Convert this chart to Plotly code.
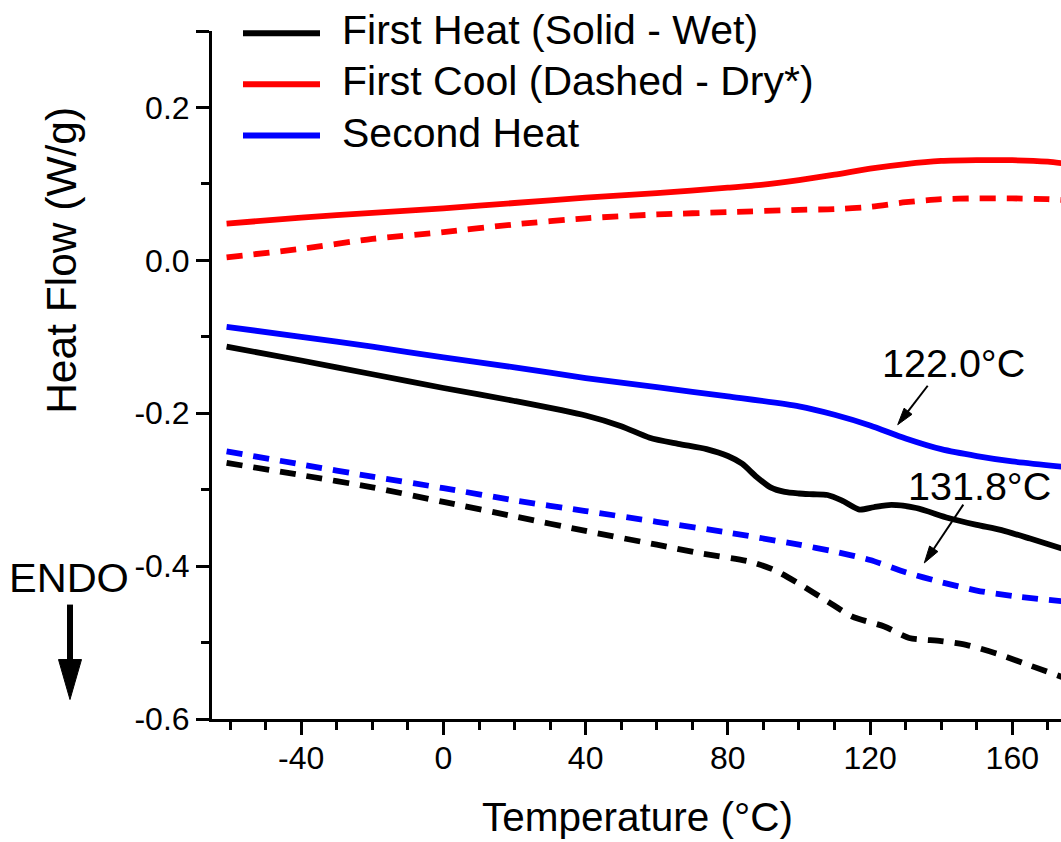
import math
import plotly.graph_objects as go

# ---------------- data ----------------
heat1_wet_x = [-61, -40, -20, 0, 20, 40, 50, 58, 66, 74, 80, 84, 88, 92, 96, 100, 104, 108, 112, 117, 121, 126, 133, 142, 150, 157, 165, 174]
heat1_wet_y = [-0.113, -0.131, -0.149, -0.167, -0.184, -0.203, -0.217, -0.232, -0.240, -0.247, -0.256, -0.266, -0.283, -0.297, -0.303, -0.305, -0.306, -0.307, -0.314, -0.326, -0.323, -0.320, -0.324, -0.337, -0.346, -0.353, -0.364, -0.377]

heat1_dry_x = [-61, -40, -20, 0, 20, 40, 60, 72, 86, 93, 100, 108, 115, 124, 131, 140, 147, 156, 165, 174]
heat1_dry_y = [-0.265, -0.281, -0.297, -0.316, -0.335, -0.354, -0.372, -0.383, -0.394, -0.405, -0.423, -0.446, -0.466, -0.479, -0.494, -0.498, -0.503, -0.515, -0.530, -0.545]

cool1_wet_x = [-61, -40, -20, 0, 20, 40, 60, 80, 90, 100, 110, 120, 130, 140, 150, 160, 170, 174]
cool1_wet_y = [0.048, 0.056, 0.062, 0.068, 0.075, 0.082, 0.088, 0.095, 0.099, 0.105, 0.112, 0.120, 0.126, 0.130, 0.131, 0.131, 0.129, 0.127]

cool1_dry_x = [-61, -40, -20, 0, 20, 40, 60, 80, 100, 110, 120, 130, 140, 150, 160, 170, 174]
cool1_dry_y = [0.004, 0.015, 0.028, 0.037, 0.047, 0.055, 0.060, 0.063, 0.066, 0.067, 0.070, 0.076, 0.080, 0.081, 0.081, 0.080, 0.079]

heat2_wet_x = [-61, -40, -20, 0, 20, 40, 60, 80, 100, 110, 120, 130, 140, 150, 160, 174]
heat2_wet_y = [-0.087, -0.100, -0.113, -0.127, -0.140, -0.154, -0.166, -0.178, -0.191, -0.202, -0.216, -0.233, -0.247, -0.256, -0.263, -0.270]

heat2_dry_x = [-61, -40, -20, 0, 20, 40, 60, 80, 100, 110, 120, 130, 140, 150, 160, 174]
heat2_dry_y = [-0.250, -0.267, -0.283, -0.298, -0.314, -0.328, -0.342, -0.356, -0.372, -0.381, -0.392, -0.408, -0.421, -0.432, -0.439, -0.446]

legend_labels = ["First Heat (Solid - Wet)", "First Cool (Dashed - Dry*)", "Second Heat"]
legend_colors = ["#000000", "#ff0000", "#0000ff"]

x_tick_vals = [-40, 0, 40, 80, 120, 160]
x_tick_text = ["-40", "0", "40", "80", "120", "160"]
y_tick_vals = [-0.6, -0.4, -0.2, 0.0, 0.2, 0.3]
y_tick_text = ["-0.6", "-0.4", "-0.2", "0.0", "0.2", ""]

x_title = "Temperature (°C)"
y_title = "Heat Flow (W/g)"
peak_labels = ["122.0°C", "131.8°C"]

# ---------------- layout geometry ----------------
FIG_W, FIG_H = 1061, 842
ML, MR, MT = 212, 0, 31
PLOT_BOTTOM = 719.5
MB = FIG_H - PLOT_BOTTOM
PW = FIG_W - ML - MR
PH = FIG_H - MT - MB
FONT = "Liberation Sans, Arial, Helvetica, sans-serif"


def pxx(xp):
    """window pixel x -> paper x"""
    return (xp - ML) / PW


def pxy(yp):
    """window pixel y -> paper y"""
    return (PLOT_BOTTOM - yp) / PH


fig = go.Figure()

series = [
    ("First Heat (Wet)", heat1_wet_x, heat1_wet_y, "#000000", "solid"),
    ("First Heat (Dry)", heat1_dry_x, heat1_dry_y, "#000000", "16px,11px"),
    ("First Cool (Wet)", cool1_wet_x, cool1_wet_y, "#ff0000", "solid"),
    ("First Cool (Dry)", cool1_dry_x, cool1_dry_y, "#ff0000", "16px,11px"),
    ("Second Heat (Wet)", heat2_wet_x, heat2_wet_y, "#0000ff", "solid"),
    ("Second Heat (Dry)", heat2_dry_x, heat2_dry_y, "#0000ff", "16px,11px"),
]
for name, xs, ys, col, dash in series:
    fig.add_trace(go.Scatter(
        x=xs, y=ys, mode="lines", name=name, showlegend=False,
        line=dict(color=col, width=5.8, dash=dash, shape="spline", smoothing=0.7),
    ))

shapes = []
annotations = []

# manual legend
leg_rows_y = [33.3, 84.3, 135.7]
for lab, col, yy in zip(legend_labels, legend_colors, leg_rows_y):
    shapes.append(dict(type="line", xref="paper", yref="paper",
                       x0=pxx(243), x1=pxx(320), y0=pxy(yy), y1=pxy(yy),
                       line=dict(color=col, width=6)))
    annotations.append(dict(text=lab, xref="paper", yref="paper",
                            x=pxx(340), y=pxy(yy - 3), xanchor="left", yanchor="middle",
                            showarrow=False, font=dict(size=41, color="black", family=FONT)))


def arrow(x0, y0, x1, y1, width, head_len, head_w):
    dx, dy = x1 - x0, y1 - y0
    L = math.hypot(dx, dy)
    ux, uy = dx / L, dy / L
    bx, by = x1 - ux * head_len, y1 - uy * head_len
    nx, ny = -uy, ux
    shapes.append(dict(type="line", xref="paper", yref="paper",
                       x0=pxx(x0), y0=pxy(y0), x1=pxx(bx + ux * 2), y1=pxy(by + uy * 2),
                       line=dict(color="black", width=width)))
    p1 = (bx + nx * head_w / 2, by + ny * head_w / 2)
    p2 = (bx - nx * head_w / 2, by - ny * head_w / 2)
    path = "M {:.5f},{:.5f} L {:.5f},{:.5f} L {:.5f},{:.5f} Z".format(
        pxx(p1[0]), pxy(p1[1]), pxx(x1), pxy(y1), pxx(p2[0]), pxy(p2[1]))
    shapes.append(dict(type="path", xref="paper", yref="paper", path=path,
                       fillcolor="black", line=dict(color="black", width=1)))


# ENDO arrow
arrow(70, 605, 70, 700, 6, 40, 23)
annotations.append(dict(text="ENDO", xref="paper", yref="paper", x=pxx(69), y=pxy(578),
                        xanchor="center", yanchor="middle", showarrow=False,
                        font=dict(size=41.5, color="black", family=FONT)))

# peak annotations
arrow(927.7, 386, 897.7, 425, 2, 17, 10)
arrow(963.3, 505, 924.3, 563.3, 2, 17, 10)
annotations.append(dict(text=peak_labels[0], xref="paper", yref="paper", x=pxx(953), y=pxy(363),
                        xanchor="center", yanchor="middle", showarrow=False,
                        font=dict(size=39.5, color="black", family=FONT)))
annotations.append(dict(text=peak_labels[1], xref="paper", yref="paper", x=pxx(979), y=pxy(486),
                        xanchor="center", yanchor="middle", showarrow=False,
                        font=dict(size=39.5, color="black", family=FONT)))

# y-axis title (centred at 0.0 in the reference)
annotations.append(dict(text=y_title, xref="paper", yref="paper", x=pxx(62), y=pxy(261),
                        xanchor="center", yanchor="middle", textangle=-90, showarrow=False,
                        font=dict(size=42.5, color="black", family=FONT)))

# x-axis title
annotations.append(dict(text=x_title, xref="paper", yref="paper", x=pxx(637.5), y=pxy(818),
                        xanchor="center", yanchor="middle", showarrow=False,
                        font=dict(size=40.5, color="black", family=FONT)))

fig.update_layout(
    width=FIG_W, height=FIG_H,
    margin=dict(l=ML, r=MR, t=MT, b=MB, pad=0),
    paper_bgcolor="white", plot_bgcolor="white",
    font=dict(family=FONT, color="black"),
    shapes=shapes, annotations=annotations,
    showlegend=False,
)

fig.update_xaxes(
    range=[-65.1, 173.7], showgrid=False, zeroline=False,
    showline=True, linecolor="black", linewidth=3,
    ticks="outside", ticklen=13, tickwidth=2.5, tickcolor="black",
    tickmode="array", tickvals=x_tick_vals, ticktext=x_tick_text,
    tickfont=dict(size=32, color="black", family=FONT),
    ticklabelstandoff=-4,
    minor=dict(ticks="outside", ticklen=8, tickwidth=2.5, tickcolor="black", dtick=10, tick0=0, showgrid=False),
)
fig.update_yaxes(
    range=[-0.6, 0.3], showgrid=False, zeroline=False,
    showline=True, linecolor="black", linewidth=3,
    ticks="outside", ticklen=13, tickwidth=2.5, tickcolor="black",
    tickmode="array", tickvals=y_tick_vals, ticktext=y_tick_text,
    tickfont=dict(size=32, color="black", family=FONT),
    minor=dict(ticks="outside", ticklen=8, tickwidth=2.5, tickcolor="black", dtick=0.1, tick0=0, showgrid=False),
)

# remove the default 8px page margin so the figure fills the window exactly
fig.write_html(
    "out.html",
    config={"displayModeBar": False},
    post_script="document.body.style.margin='0';document.body.style.overflow='hidden';",
)
